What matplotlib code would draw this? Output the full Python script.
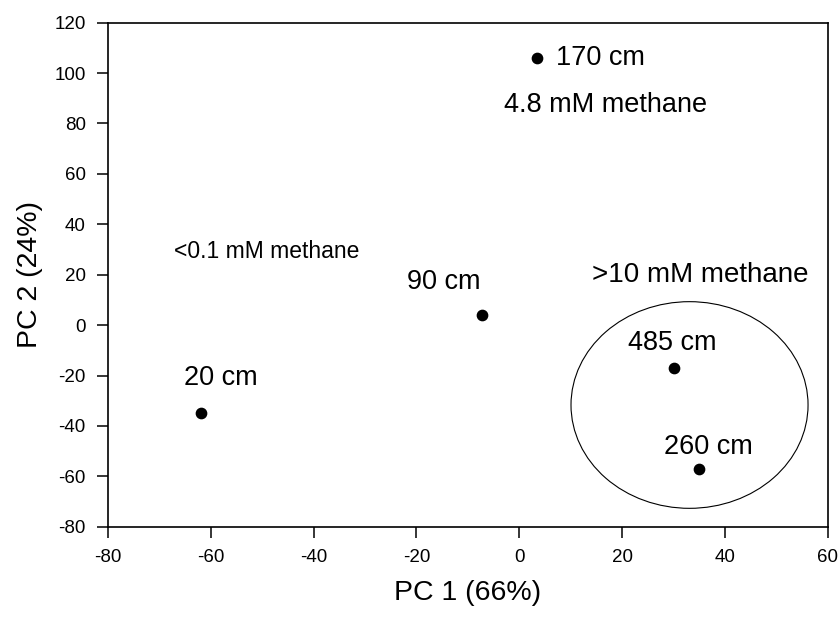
import matplotlib
matplotlib.use('Agg')
import matplotlib.pyplot as plt
from matplotlib.patches import Ellipse

plt.rcParams['font.family'] = ['Liberation Sans', 'DejaVu Sans']
plt.rcParams['axes.unicode_minus'] = False

# sample depths and PCA scores
depths = ['20 cm', '90 cm', '170 cm', '260 cm', '485 cm']
pc1 = [-62.0, -7.3, 3.5, 35.0, 30.0]
pc2 = [-35.0, 4.0, 106.0, -57.0, -17.0]

# where each depth label sits (data coords) and how it is anchored
lab_pos = [(-58.0, -21.0, 'center'), (-14.7, 17.2, 'center'), (7.2, 106.0, 'left'),
           (36.7, -48.3, 'center'), (29.7, -7.2, 'center')]

fig = plt.figure(figsize=(8.39, 6.18), dpi=100)
ax = fig.add_axes([0.1287, 0.1477, 0.858, 0.8156])

ax.scatter(pc1, pc2, s=55, color='k', zorder=3)
for name, (lx, ly, ha) in zip(depths, lab_pos):
    ax.text(lx, ly, name, fontsize=19.5, ha=ha, va='center')

ax.text(16.7, 87.3, '4.8 mM methane', fontsize=19.5, ha='center', va='center')
ax.text(-49.1, 29.1, '<0.1 mM methane', fontsize=16.5, ha='center', va='center')
ax.text(35.2, 19.9, '>10 mM methane', fontsize=20, ha='center', va='center')

ax.add_patch(Ellipse((33.1, -31.7), 46.1, 82, fill=False, lw=0.8, ec='k'))

ax.set_xlim(-80, 60)
ax.set_ylim(-80, 120)
ax.set_xticks(range(-80, 61, 20))
ax.set_yticks(range(-80, 121, 20))
ax.tick_params(direction='out', length=8, width=1.1, labelsize=13.5, pad=8,
               top=False, right=False)
for sp in ax.spines.values():
    sp.set_linewidth(1.2)

ax.set_xlabel('PC 1 (66%)', fontsize=20.5, labelpad=10)
ax.set_ylabel('PC 2 (24%)', fontsize=20.5, labelpad=8)

fig.savefig('out.png', dpi=100)
